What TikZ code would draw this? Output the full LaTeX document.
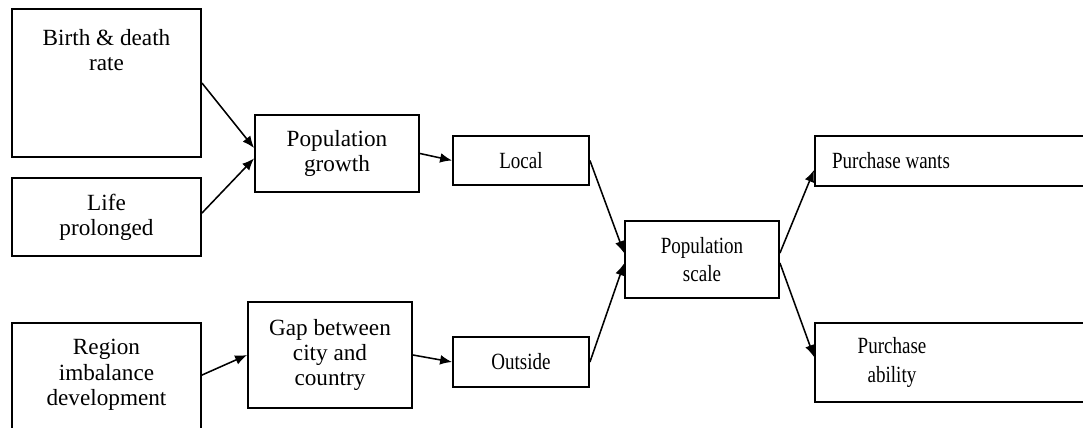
\documentclass[tikz,border=0pt]{standalone}
\usepackage{fontspec}
\setmainfont{Liberation Serif}
\newfontfamily\narrowfont[FakeStretch=0.82]{Liberation Serif}
\usetikzlibrary{arrows.meta}

\begin{document}
\begin{tikzpicture}[x=0.025cm, y=0.025cm,
  box/.style={draw=black, line width=1.3pt, inner sep=0pt, align=center},
  big/.style={font=\fontsize{16.5}{18}\selectfont, align=center},
  small/.style={font=\narrowfont\fontsize{16.5}{20}\selectfont, align=center},
  arr/.style={black, line width=1.1pt, -{Latex[length=8.5pt,width=7pt]}}]
\useasboundingbox (0,0) rectangle (1083,427);
\fill[white] (0,0) rectangle (1083,427);
\clip (0,0) rectangle (1083,427);
% causes
\node[box, minimum width=4.725cm, minimum height=3.7cm] (birth) at (106.5,344) {};
\node[big] (birthtxt) at (106.5,377) {Birth \& death\\rate};
\node[box, big, minimum width=4.725cm, minimum height=1.95cm] (life) at (106.5,210) {Life\\prolonged};
\node[box, minimum width=4.725cm, minimum height=2.8cm] (region) at (106.5,48) {};
\node[big] (regiontxt) at (106.5,52) {Region\\imbalance\\development};
% middle
\node[box, big, minimum width=4.1cm, minimum height=1.925cm] (growth) at (337,273.5) {Population\\growth};
\node[box, big, minimum width=4.1cm, minimum height=2.65cm] (gap) at (330,72) {Gap between\\city and\\country};
\node[box, small, minimum width=3.4cm, minimum height=1.225cm] (local) at (521,266.5) {Local};
\node[box, small, minimum width=3.4cm, minimum height=1.25cm] (outside) at (521,65) {Outside};
\node[box, small, minimum width=3.85cm, minimum height=1.925cm] (scale) at (702,167.5) {Population\\scale};
% effects
\node[box, minimum width=7.125cm, minimum height=1.25cm] (wants) at (957.5,266) {};
\node[small] (wantstxt) at (891,266) {Purchase wants};
\node[box, minimum width=7.125cm, minimum height=1.975cm] (ability) at (957.5,64.5) {};
\node[small] (abilitytxt) at (892,64.5) {Purchase\\ability};

\draw[arr] (birth.east) -- ([yshift=3.9pt]growth.west);
\draw[arr] ([yshift=2.8pt]life.east) -- ([yshift=-3.5pt]growth.west);
\draw[arr] (growth.east) -- (local.west);
\draw[arr] ([yshift=2.8pt]region.east) -- (gap.west);
\draw[arr] (gap.east) -- (outside.west);
\draw[arr] (local.east) -- ([yshift=4.6pt]scale.west);
\draw[arr] (outside.east) -- ([yshift=-2.8pt]scale.west);
\draw[arr] ([yshift=4.6pt]scale.east) -- ([yshift=-6.4pt]wants.west);
\draw[arr] ([yshift=-2.5pt]scale.east) -- ([yshift=3.9pt]ability.west);
%\draw[arr] (scale.east) -- (ability.west);
\end{tikzpicture}
\end{document}
